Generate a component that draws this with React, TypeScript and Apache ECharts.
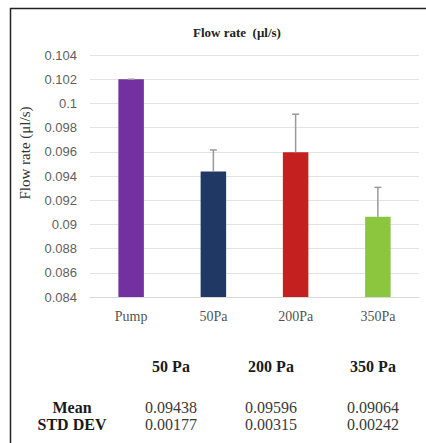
import React, { useEffect, useRef } from "react";
import * as echarts from "echarts";

const categories = ["Pump", "50Pa", "200Pa", "350Pa"];
const means = [0.102, 0.09438, 0.09596, 0.09064];
const stdDevs = [0, 0.00177, 0.00315, 0.00242];
const barColors = ["#7330A0", "#1F3864", "#C4201F", "#8CC63F"];
const tableColumns = ["50 Pa", "200 Pa", "350 Pa"];
const tableMeans = means.slice(1).map((v) => v.toFixed(5));
const tableStd = stdDevs.slice(1).map((v) => v.toFixed(5));
const rowLabels = ["Mean", "STD DEV"];
const chartTitle = "Flow rate  (μl/s)";
const yAxisTitle = "Flow rate (μl/s)";

export default function App() {
  const ref = useRef<HTMLDivElement>(null);
  useEffect(() => {
    document.body.style.margin = "0";
    const chart = echarts.init(ref.current!, null, { renderer: "svg" });
    const colX = [171, 271, 373];
    const serif = "'Liberation Serif', serif";
    const tableTexts: any[] = [];
    tableColumns.forEach((c, i) => {
      tableTexts.push({
        type: "text",
        x: colX[i],
        y: 366,
        style: { text: c, font: `bold 16px ${serif}`, fill: "#1a1a1a", textAlign: "center", textVerticalAlign: "middle" },
      });
      tableTexts.push({
        type: "text",
        x: colX[i],
        y: 407,
        style: { text: tableMeans[i], font: `16px ${serif}`, fill: "#3a3a3a", textAlign: "center", textVerticalAlign: "middle" },
      });
      tableTexts.push({
        type: "text",
        x: colX[i],
        y: 424,
        style: { text: tableStd[i], font: `16px ${serif}`, fill: "#3a3a3a", textAlign: "center", textVerticalAlign: "middle" },
      });
    });
    rowLabels.forEach((r, i) => {
      tableTexts.push({
        type: "text",
        x: 72,
        y: i === 0 ? 407 : 424,
        style: { text: r, font: `bold 16px ${serif}`, fill: "#1a1a1a", textAlign: "center", textVerticalAlign: "middle" },
      });
    });

    chart.setOption({
      animation: false,
      backgroundColor: "#ffffff",
      title: {
        text: chartTitle,
        left: 232,
        top: 21,
        textAlign: "center",
        textStyle: { fontFamily: serif, fontSize: 13, fontWeight: "bold", color: "#222" },
      },
      grid: { left: 90, right: 7, top: 55, bottom: 146, outerBoundsMode: "none" },
      xAxis: {
        type: "category",
        data: categories,
        axisLine: { show: true, lineStyle: { color: "#D9D9D9" } },
        axisTick: { show: false },
        axisLabel: { fontFamily: serif, fontSize: 14, color: "#555", margin: 12 },
      },
      yAxis: {
        type: "value",
        min: 0.084,
        max: 0.104,
        interval: 0.002,
        axisLine: { show: false },
        axisTick: { show: false },
        splitLine: { lineStyle: { color: "#E3E3E3" } },
        axisLabel: {
          fontFamily: "'Liberation Sans', sans-serif",
          fontSize: 13,
          color: "#5f5f5f",
          margin: 13,
          formatter: (v: number) => String(parseFloat(v.toFixed(3))),
        },
      },
      series: [
        {
          type: "bar",
          barWidth: "31%",
          data: means.map((m, i) => ({ value: m, itemStyle: { color: barColors[i] } })),
        },
        {
          type: "custom",
          data: categories.map((c, i) => [i, means[i], stdDevs[i]]),
          encode: { x: 0, y: 1 },
          z: 5,
          renderItem: (params: any, api: any) => {
            const x = api.value(0);
            const m = api.value(1);
            const s = api.value(2);
            const base = api.coord([x, m]);
            const top = api.coord([x, m + s]);
            const st = { stroke: "#9A9A9A", lineWidth: 1.5 };
            return {
              type: "group",
              children: [
                { type: "line", shape: { x1: base[0], y1: base[1], x2: top[0], y2: top[1] }, style: st },
                { type: "line", shape: { x1: top[0] - 3.5, y1: top[1], x2: top[0] + 3.5, y2: top[1] }, style: st },
              ],
            };
          },
        },
      ],
      graphic: [
        {
          type: "text",
          x: 25,
          y: 153,
          rotation: Math.PI / 2,
          style: {
            text: yAxisTitle,
            font: `15px ${serif}`,
            fill: "#333",
            textAlign: "center",
            textVerticalAlign: "middle",
          },
        },
        { type: "line", shape: { x1: 10, y1: 8.5, x2: 426, y2: 8.5 }, style: { stroke: "#222", lineWidth: 1.5 } },
        { type: "line", shape: { x1: 10.5, y1: 8, x2: 10.5, y2: 443 }, style: { stroke: "#222", lineWidth: 1.5 } },
        ...tableTexts,
      ],
    });
    return () => chart.dispose();
  }, []);
  return <div ref={ref} style={{ width: 426, height: 443 }} />;
}
